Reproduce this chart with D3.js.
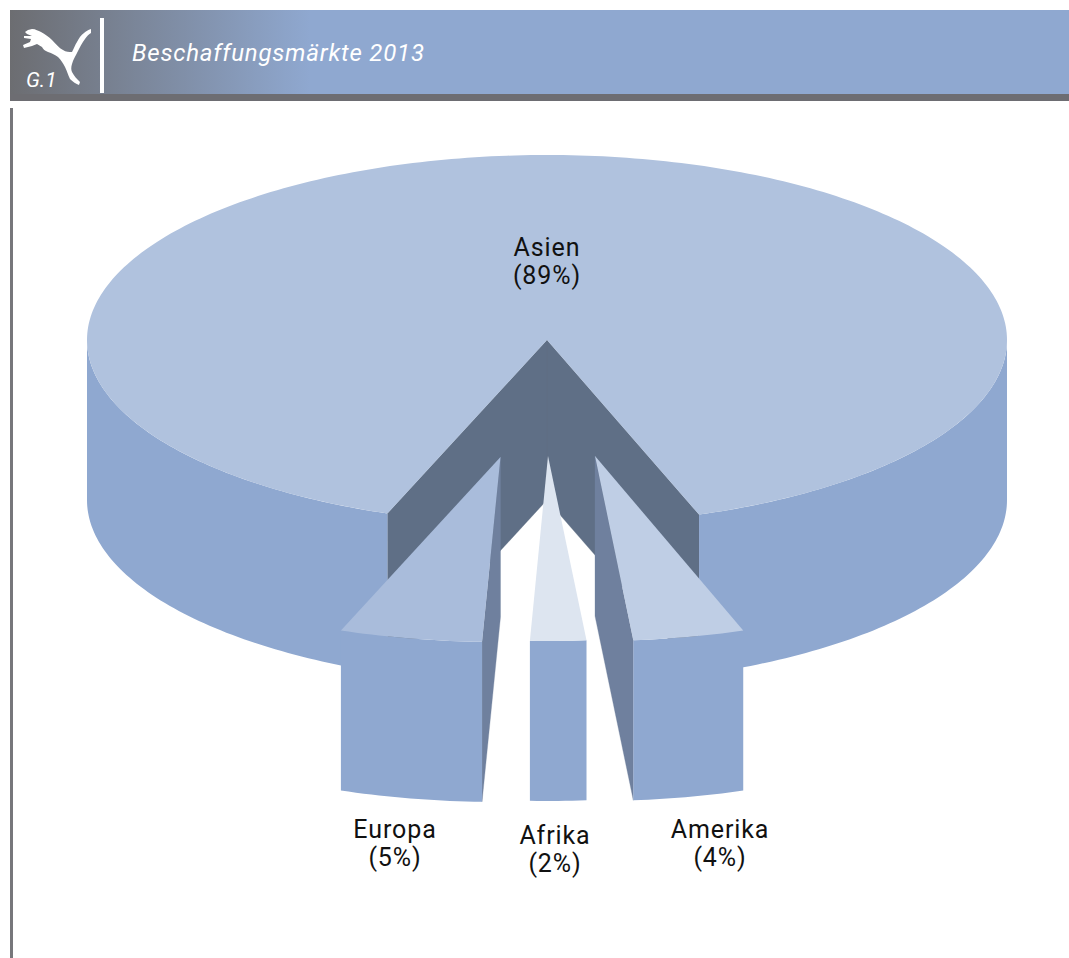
<!DOCTYPE html>
<html lang="de">
<head>
<meta charset="utf-8">
<title>Beschaffungsmärkte 2013</title>
<script src="https://cdn.jsdelivr.net/npm/d3@7/dist/d3.min.js"></script>
<style>
  html, body { margin: 0; padding: 0; background: #fff; }
  svg { display: block; }
  text { font-family: Roboto, "Liberation Sans", sans-serif; }
</style>
</head>
<body>
<script>
// Procurement markets: share of sourcing volume per region.
const regions = ["Europa", "Afrika", "Amerika", "Asien"];
const shares = [5, 2, 4, 89];
const chartTitle = "Beschaffungsmärkte 2013";
const chartBadge = "G.1";

// Per-region appearance and placement of the pulled-out wedges.
const topColors = ["#a9bcdb", "#dde5f0", "#bfcee5", "#b0c2de"];
const wallColors = ["#6f809e", "#6f809e", "#6f809e", "#5f6f86"];
const faceColor = "#8fa8d0";
const explode = [[-46.5, 117], [1, 116], [48, 116], [0, 0]];
const rimScale = [1, 0.98, 0.975, 1];
const labelAnchors = [[395, 838], [555, 844], [720, 838], [547, 256]];

const W = 1069, H = 958;
const cx = 547, cy = 340, rx = 460, ry = 185, depth = 160;
const startDeg = -20.3;

const svg = d3.select("body").append("svg").attr("width", W).attr("height", H);

// Header band
const grad = svg.append("defs").append("linearGradient")
  .attr("id", "band").attr("gradientUnits", "userSpaceOnUse")
  .attr("x1", 10).attr("x2", 310).attr("y1", 0).attr("y2", 0);
grad.append("stop").attr("offset", 0).attr("stop-color", "#6c6d71");
grad.append("stop").attr("offset", 1).attr("stop-color", "#8fa8d0");

svg.append("rect").attr("x", 10).attr("y", 10).attr("width", W - 10).attr("height", 84).attr("fill", "url(#band)");
svg.append("rect").attr("x", 10).attr("y", 94).attr("width", W - 10).attr("height", 7).attr("fill", "#6d6d72");
svg.append("rect").attr("x", 100).attr("y", 18).attr("width", 4).attr("height", 75).attr("fill", "#fff");
svg.append("rect").attr("x", 10).attr("y", 108).attr("width", 3).attr("height", H - 108).attr("fill", "#77777b");

// Leaping cat emblem
svg.append("path").attr("fill", "#fff").attr("d",
  "M25 32 L28 30 L32 29 C36 29 38 31 41 32 C45 34 49 37 52 40 C56 44 59 48 63 50 C66 52 69 52 72 52 " +
  "C74 48 75 45 77 42 C79 38 81 35 84 33 C86 31 88 30 91 29 L91 33 C89 34 87 36 85 39 " +
  "C82 43 80 47 78 51 C76 55 73 60 72 64 C71 67 71 70 72 72 C74 76 77 79 80 82 L79 85 " +
  "C76 84 73 82 70 79 C68 75 67 71 65 67 C63 63 61 60 58 57 C55 55 52 53 48 52 " +
  "C45 51 43 49 42 47 L37 44 L32 46 L24 48 L23 45 L30 42 L31 39 L24 38 L24 36 L32 36 L27 34 Z");

svg.append("text").attr("x", 26).attr("y", 87)
  .attr("font-size", 21).attr("font-style", "italic").attr("fill", "#fff").text(chartBadge);
svg.append("text").attr("x", 132).attr("y", 61)
  .attr("font-size", 24).attr("font-style", "italic").attr("font-weight", 400)
  .attr("letter-spacing", 0.8).attr("fill", "#fff").text(chartTitle);

// Wedge angles come straight from the shares
const deg = Math.PI / 180;
const arcs = d3.pie().sort(null).value(d => d)
  .startAngle(startDeg * deg).endAngle((startDeg + 360) * deg)(shares);

const line = d3.line();
const rimSamples = (a, b) => {
  const n = Math.max(8, Math.ceil(Math.abs(b - a) / deg));
  return d3.range(n + 1).map(i => a + (b - a) * i / n);
};

// Only the half of the rim facing the viewer has a visible outer face
const frontSpans = (a, b) => [[-90 * deg, 90 * deg], [270 * deg, 450 * deg]]
  .map(([lo, hi]) => [Math.max(a, lo), Math.min(b, hi)])
  .filter(([lo, hi]) => hi > lo);

const drawWedge = (g, arc, i) => {
  const [ex, ey] = explode[i];
  const ox = cx + ex, oy = cy + ey;
  const rim = (t, dy = 0) => [ox + rx * rimScale[i] * Math.sin(t), oy + ry * Math.cos(t) + dy];
  const a = arc.startAngle, b = arc.endAngle;

  // Cut walls running from the hub to the rim; a wall shows only if it turns towards the viewer
  [[a, Math.sin(a) > 0], [b, Math.sin(b) < 0]].filter(d => d[1]).forEach(([t]) => {
    g.append("path")
      .attr("d", line([[ox, oy], rim(t), rim(t, depth), [ox, oy + depth]]) + "Z")
      .attr("fill", wallColors[i]).attr("stroke", wallColors[i]).attr("stroke-width", 0.3);
  });

  // Outer curved face
  frontSpans(a, b).forEach(([lo, hi]) => {
    const ts = rimSamples(lo, hi);
    const upper = ts.map(t => rim(t));
    const lower = ts.slice().reverse().map(t => rim(t, depth));
    g.append("path").attr("d", line(upper.concat(lower)) + "Z").attr("fill", faceColor);
  });

  // Top surface
  const top = rimSamples(a, b).map(t => rim(t));
  g.append("path").attr("d", line([[ox, oy]].concat(top)) + "Z").attr("fill", topColors[i]);
};

// Paint the main body first so the pulled-out wedges sit in front of it
const order = [3, 0, 1, 2];
order.forEach(i => drawWedge(svg.append("g").attr("class", "wedge"), arcs[i], i));

// Region labels
regions.forEach((name, i) => {
  const [lx, ly] = labelAnchors[i];
  const t = svg.append("text").attr("text-anchor", "middle").attr("font-size", 25)
    .attr("font-weight", 400).attr("letter-spacing", 0.9).attr("fill", "#111");
  t.append("tspan").attr("x", lx).attr("y", ly).text(name);
  t.append("tspan").attr("x", lx).attr("y", ly + 28).text(`(${shares[i]}%)`);
});
</script>
</body>
</html>
